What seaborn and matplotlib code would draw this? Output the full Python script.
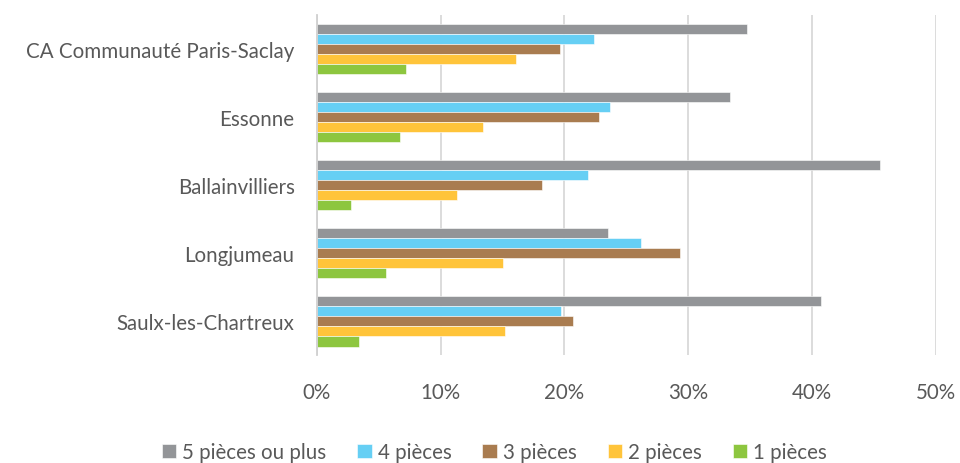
import pandas as pd
import matplotlib.pyplot as plt
import seaborn as sns
from matplotlib.ticker import PercentFormatter

# données (en %)
territoires = ["CA Communauté Paris-Saclay", "Essonne", "Ballainvilliers",
               "Longjumeau", "Saulx-les-Chartreux"]
pieces = ["5 pièces ou plus", "4 pièces", "3 pièces", "2 pièces", "1 pièces"]
p5 = [34.7, 33.4, 45.5, 23.5, 40.7]
p4 = [22.4, 23.7, 21.9, 26.2, 19.7]
p3 = [19.6, 22.8, 18.2, 29.3, 20.7]
p2 = [16.1, 13.4, 11.3, 15.0, 15.2]
p1 = [7.2, 6.7, 2.8, 5.6, 3.4]
couleurs = ["#939598", "#66CFF4", "#A97C50", "#FFC43A", "#8DC63F"]

valeurs = [p5, p4, p3, p2, p1]
rows = []
for piece, vals in zip(pieces, valeurs):
    for terr, v in zip(territoires, vals):
        rows.append({"territoire": terr, "pieces": piece, "part": v})
df = pd.DataFrame(rows)

sns.set_style("white")
plt.rcParams['font.family'] = ['Lato', 'DejaVu Sans']
texte = "#595959"
taille = 14.8

fig = plt.figure(figsize=(9.6, 4.64), dpi=100)
ax = fig.add_axes([0.330, 0.232, 0.645, 0.733])

sns.barplot(data=df, x="part", y="territoire", hue="pieces",
            order=territoires, hue_order=pieces, palette=couleurs,
            width=0.74, gap=0, orient="h", ax=ax,
            edgecolor="white", linewidth=0.4, saturation=1)

ax.set_xlim(0, 50)
ax.set_xticks([0, 10, 20, 30, 40, 50])
ax.xaxis.set_major_formatter(PercentFormatter(decimals=0))
ax.grid(axis="x", color="#D9D9D9", linewidth=1.3)
ax.set_axisbelow(True)
for s in ["top", "right", "bottom"]:
    ax.spines[s].set_visible(False)
ax.spines["left"].set_color("#D0D0D0")
ax.spines["left"].set_linewidth(1.3)
ax.set_xlabel("")
ax.set_ylabel("")
ax.tick_params(axis="x", length=0, labelsize=taille, colors=texte, pad=19)
ax.tick_params(axis="y", length=0, labelsize=taille, colors=texte, pad=16)

ax.get_legend().remove()
handles, labels = ax.get_legend_handles_labels()
fig.legend(handles, labels, loc="lower center", ncol=5, frameon=False,
           bbox_to_anchor=(0.515, -0.038), fontsize=taille, labelcolor=texte,
           handlelength=0.7, handleheight=0.7, handletextpad=0.3,
           columnspacing=1.5)

fig.savefig("out.png", dpi=100)
